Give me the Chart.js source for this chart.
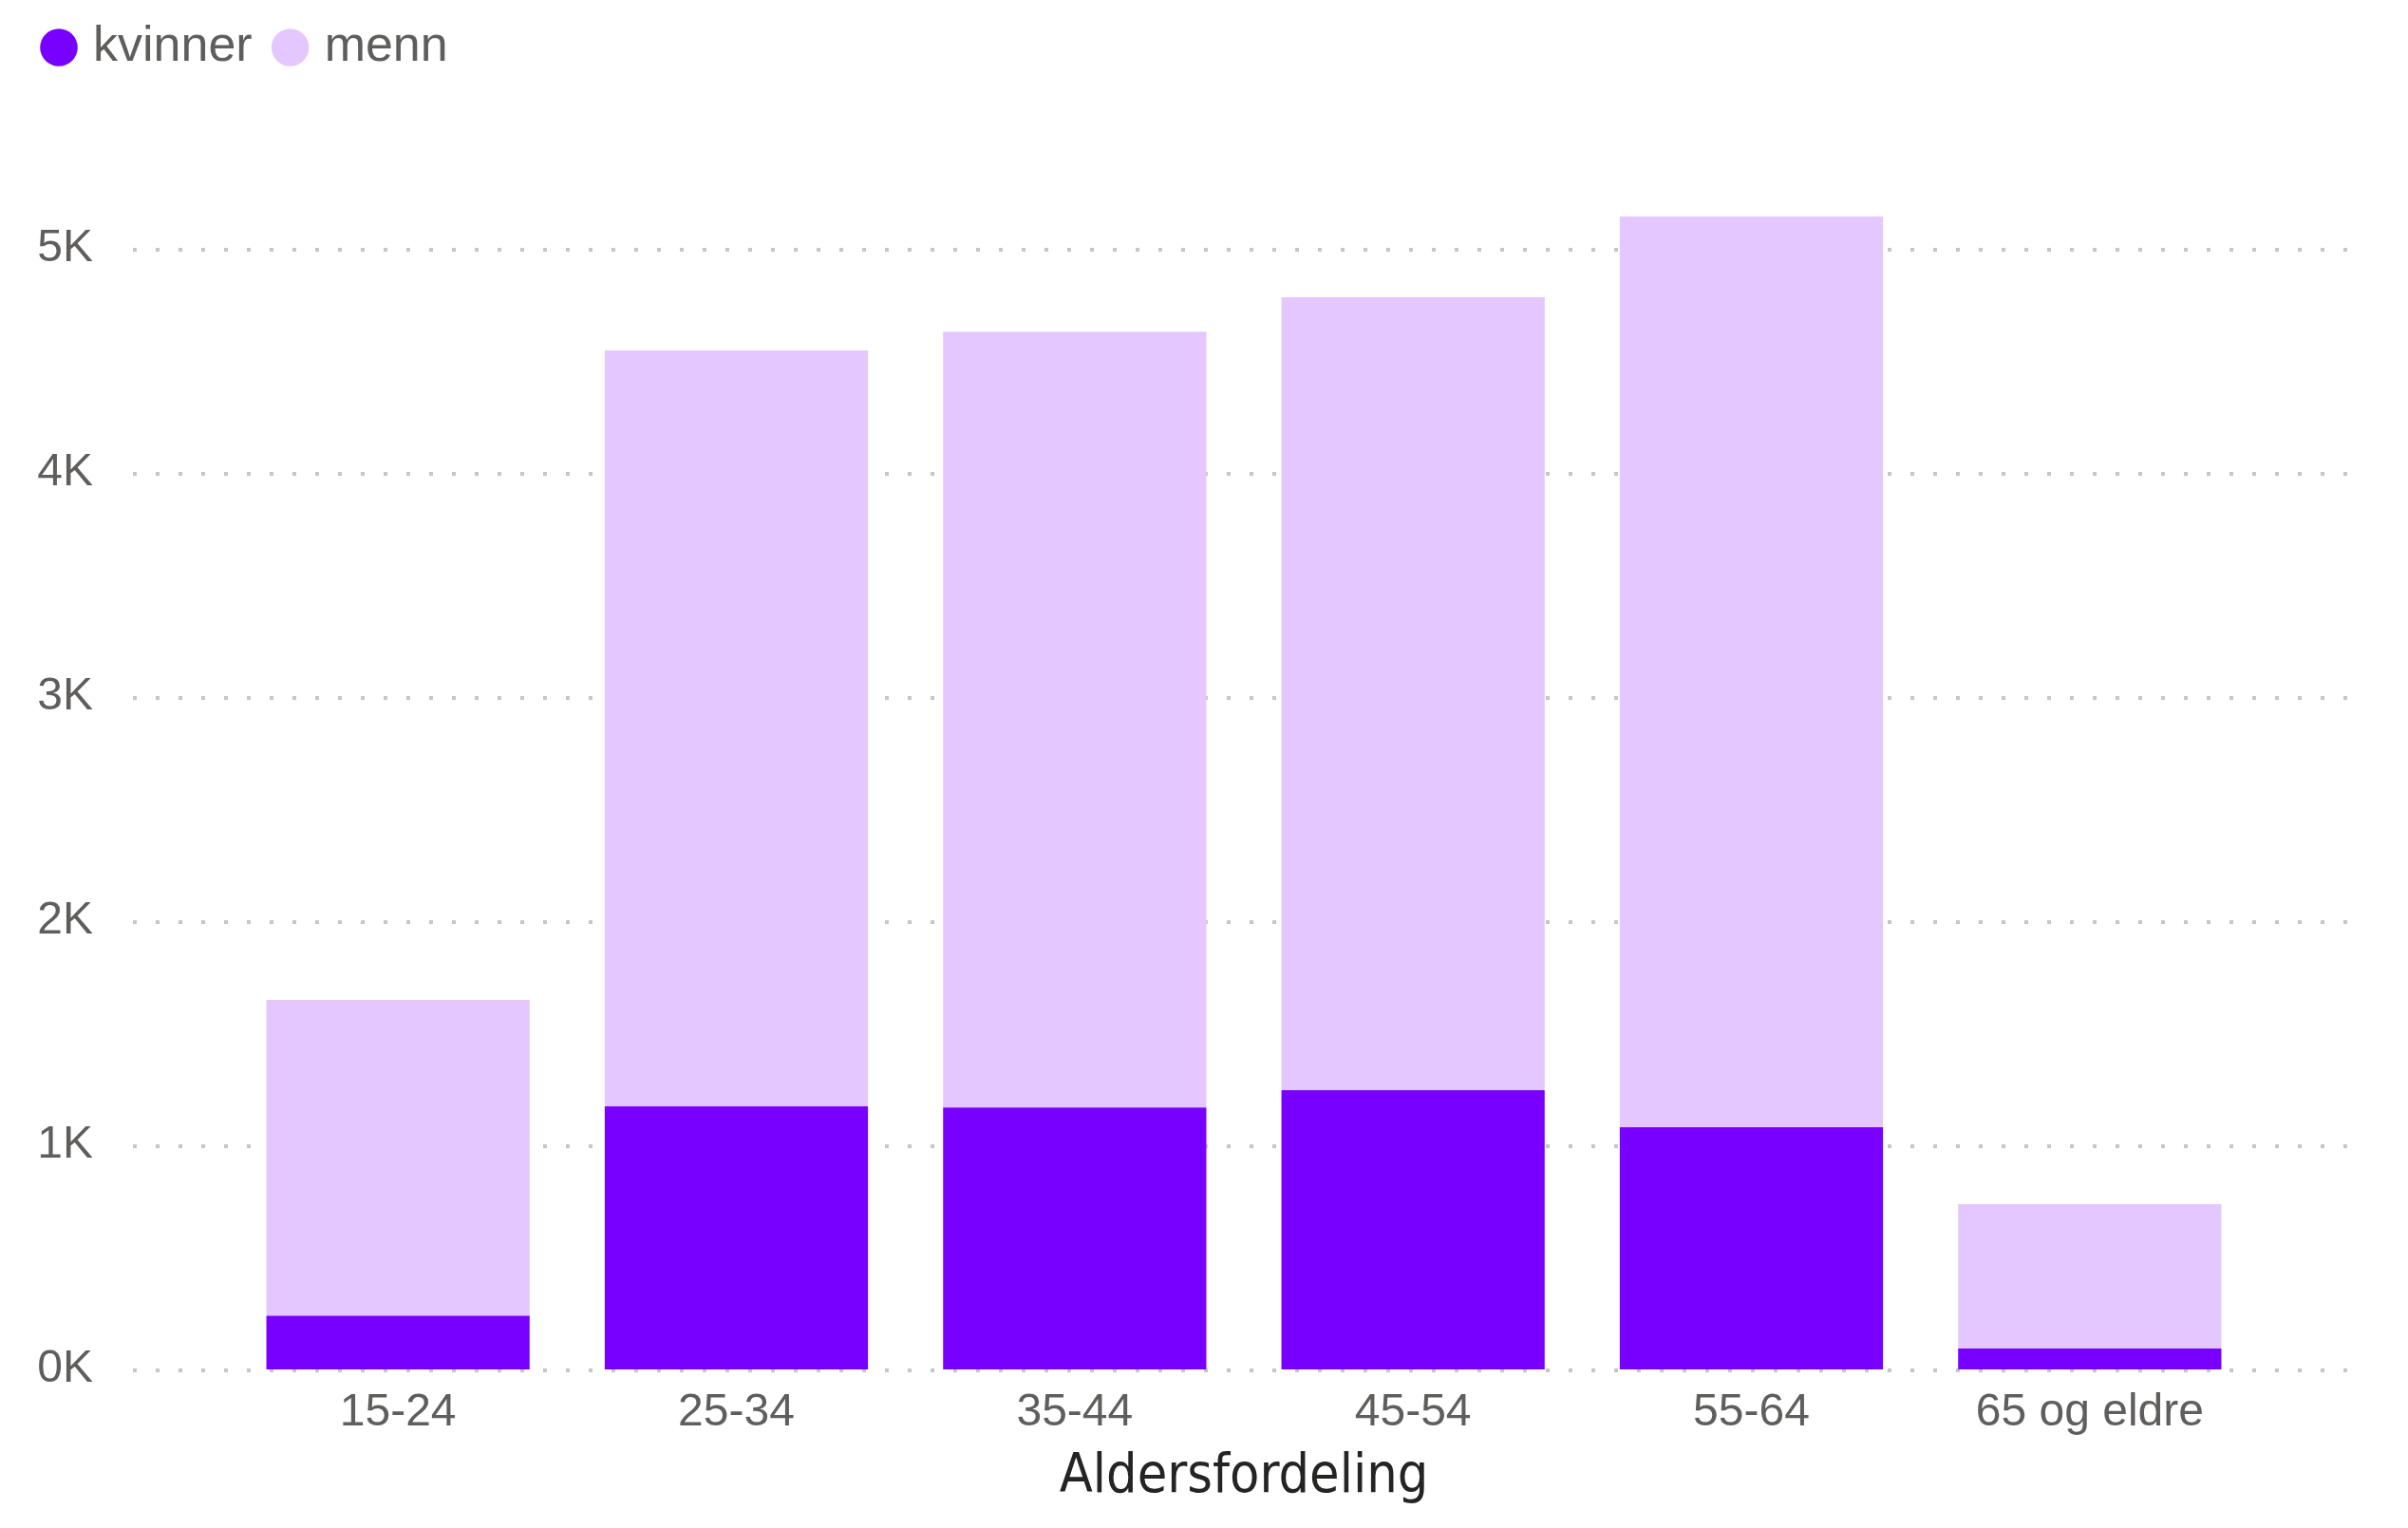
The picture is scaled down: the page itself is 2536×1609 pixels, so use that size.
<!DOCTYPE html>
<html>
<head>
<meta charset="utf-8">
<script src="https://cdn.jsdelivr.net/npm/chart.js@4.4.1/dist/chart.umd.min.js"></script>
<style>
  html, body { margin: 0; padding: 0; background: #fff; }
  #wrap { width: 2536px; height: 1609px; position: relative; }
</style>
</head>
<body>
<div id="wrap"><canvas id="chart"></canvas></div>
<script>
// Aldersfordeling - stacked bars, kvinner / menn

const AGE_GROUPS = ['15-24', '25-34', '35-44', '45-54', '55-64', '65 og eldre'];
const KVINNER = [239, 1174, 1169, 1246, 1081, 93];
const MENN = [1409, 3373, 3462, 3538, 4063, 644];
const Y_TICKS = [0, 1000, 2000, 3000, 4000, 5000];

const COLORS = {
  kvinner: '#7700FF',
  menn: '#E5C7FF',
  text: '#605E5C',
  title: '#252423',
  grid: '#C8C6C4'
};

const FONT = "'Liberation Sans', Arial, sans-serif";

// dotted gridlines that run wider than the plot area, like the original
const dottedGrid = {
  id: 'dottedGrid',
  beforeDatasetsDraw(chart) {
    const { ctx, chartArea, scales } = chart;
    const x0 = chartArea.left - 101;
    const x1 = chartArea.right + 111;
    ctx.save();
    ctx.strokeStyle = COLORS.grid;
    ctx.lineWidth = 4;
    ctx.setLineDash([4, 20]);
    for (const v of Y_TICKS) {
      const y = Math.round(scales.y.getPixelForValue(v));
      ctx.beginPath();
      ctx.moveTo(x0, y + 1);
      ctx.lineTo(x1, y + 1);
      ctx.stroke();
    }
    ctx.restore();
  }
};

new Chart(document.getElementById('chart').getContext('2d'), {
  type: 'bar',
  data: {
    labels: AGE_GROUPS,
    datasets: [
      {
        label: 'kvinner',
        data: KVINNER,
        backgroundColor: COLORS.kvinner,
        borderWidth: 0,
        categoryPercentage: 1,
        barPercentage: 0.778
      },
      {
        label: 'menn',
        data: MENN,
        backgroundColor: COLORS.menn,
        borderWidth: 0,
        categoryPercentage: 1,
        barPercentage: 0.778
      }
    ]
  },
  options: {
    responsive: true,
    maintainAspectRatio: false,
    animation: false,
    layout: { padding: { left: 22, right: 157, top: -6, bottom: 0 } },
    plugins: {
      tooltip: { enabled: false },
      legend: {
        position: 'top',
        align: 'start',
        labels: {
          usePointStyle: true,
          pointStyle: 'circle',
          boxWidth: 20,
          boxHeight: 28,
          padding: 30,
          color: COLORS.text,
          font: { family: FONT, size: 52 }
        }
      }
    },
    scales: {
      x: {
        stacked: true,
        grid: { display: false, drawTicks: false },
        border: { display: false },
        ticks: {
          color: COLORS.text,
          font: { family: FONT, size: 48 },
          padding: 17,
          maxRotation: 0
        },
        title: {
          display: true,
          text: 'Aldersfordeling',
          color: COLORS.title,
          font: { family: "'DejaVu Sans Condensed', 'DejaVu Sans', sans-serif", size: 57 },
          padding: { top: 0, bottom: 19 }
        },
        afterFit: (scale) => { scale.height = 167; }
      },
      y: {
        stacked: true,
        min: 0,
        max: 5746,
        grid: { display: false, drawTicks: false },
        border: { display: false },
        ticks: {
          autoSkip: false,
          color: COLORS.text,
          font: { family: FONT, size: 48 },
          padding: 143,
          callback: (v) => Math.round(v / 1000) + 'K'
        },
        afterBuildTicks: (scale) => {
          scale.ticks = Y_TICKS.map(v => ({ value: v }));
        },
        afterFit: (scale) => {
          scale.width = 219;
          scale.paddingTop = 0;
          scale.paddingBottom = 0;
        }
      }
    }
  },
  plugins: [dottedGrid]
});
</script>
</body>
</html>
